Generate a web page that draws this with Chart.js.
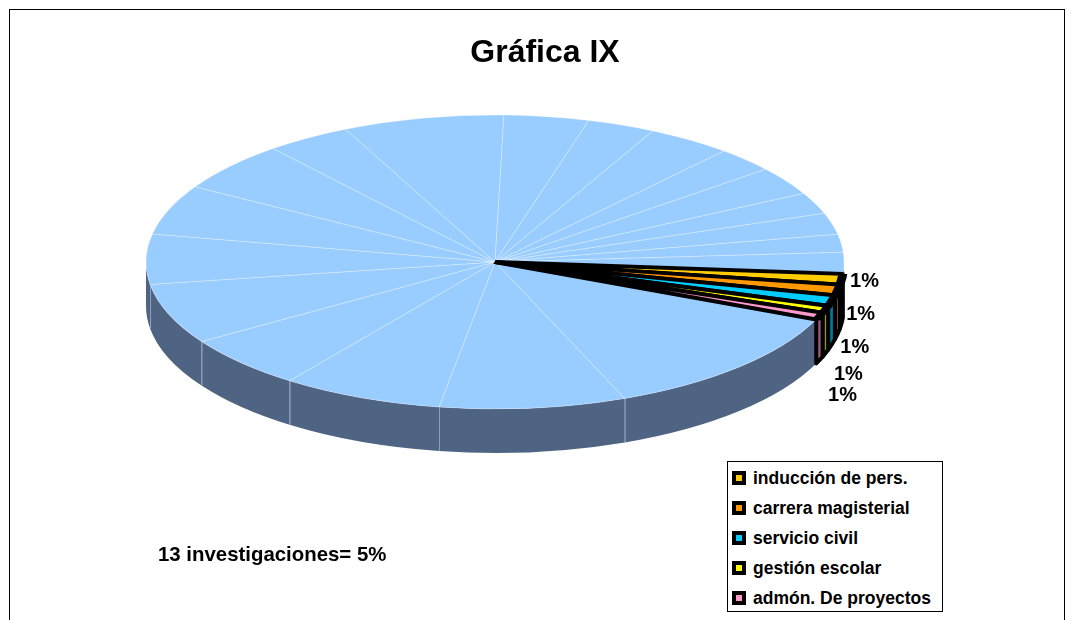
<!DOCTYPE html>
<html>
<head>
<meta charset="utf-8">
<script src="https://cdn.jsdelivr.net/npm/chart.js@4.4.0/dist/chart.umd.min.js"></script>
<style>
  html, body { margin: 0; padding: 0; background: #fff; }
  body { width: 1071px; height: 620px; position: relative; overflow: hidden;
         font-family: "Liberation Sans", Arial, sans-serif; font-weight: bold; color: #000; }
  #marco { position: absolute; left: 9px; top: 9px; width: 1056px; height: 700px;
           border: 1px solid #000; box-sizing: border-box; }
  #grafica { position: absolute; left: 0; top: 0; }
  #titulo { position: absolute; left: 395px; width: 300px; top: 35px; text-align: center;
            font-size: 32px; line-height: 32px; }
  #nota { position: absolute; left: 158px; top: 544px; font-size: 20.4px; line-height: 20px; white-space: nowrap; }
  #leyenda { position: absolute; left: 727px; top: 461px; width: 216px; height: 151px;
             border: 1px solid #000; box-sizing: border-box; background: #fff; }
  .item { position: absolute; left: 4px; height: 20px; font-size: 17.5px; line-height: 20px; white-space: nowrap; }
  .marca { position: absolute; left: 0; top: 3px; width: 14px; height: 14px; background: #000; }
  .marca span { position: absolute; left: 4px; top: 4px; width: 6px; height: 6px; }
  .texto { position: absolute; left: 21px; top: 0; }
</style>
</head>
<body>
<div id="marco"></div>
<canvas id="grafica" width="1071" height="620"></canvas>
<div id="titulo">Gráfica IX</div>
<div id="nota"></div>
<div id="leyenda"></div>
<script>
// temas con leyenda (13 investigaciones)
const temas = ["inducción de pers.", "carrera magisterial", "servicio civil", "gestión escolar", "admón. De proyectos"];
const investigaciones = [3, 3, 3, 2, 2];
const coloresTemas = ["#FFCC00", "#FF9900", "#00CCFF", "#FFFF00", "#FF99CC"];

// resto de temas (sin leyenda), en el sentido del reloj desde abajo de "admón."
const otrasInvestigaciones = [32, 22, 19, 15, 17, 14, 14, 14, 10, 19, 10, 8, 10, 7, 8, 6, 6, 5, 6];
const otrosTemas = otrasInvestigaciones.map((_, i) => "otro tema " + (i + 1));

const nota = "13 investigaciones= 5%";

const AZUL = "#99CCFF";
const AZUL_LADO = "#4F6482";
const INCLINACION = 147 / 349;
const PROFUNDIDAD = 44;

const etiquetas = otrosTemas.concat(temas);
const valores = otrasInvestigaciones.concat(investigaciones);
const colores = otrosTemas.map(() => AZUL).concat(coloresTemas);
const nOtros = otrosTemas.length;
const total = valores.reduce((a, b) => a + b, 0);

function oscurecer(hex, f) {
    const n = parseInt(hex.slice(1), 16);
    const r = Math.round(((n >> 16) & 255) * f);
    const g = Math.round(((n >> 8) & 255) * f);
    const b = Math.round((n & 255) * f);
    return `rgb(${r},${g},${b})`;
}

// 🥧 pastel en 3D: lado frontal + aplastar la cara superior
const pastel3d = {
    id: "pastel3d",
    beforeDatasetsDraw(chart) {
        const ctx = chart.ctx;
        const arcos = chart.getDatasetMeta(0).data;
        const cx = arcos[0].x, cy = arcos[0].y;
        const rx = arcos[0].outerRadius, ry = rx * INCLINACION;
        const TAU = Math.PI * 2;

        arcos.forEach((arco, i) => {
            let a = arco.startAngle, b = arco.endAngle;
            const k = Math.floor(a / TAU);
            a -= k * TAU; b -= k * TAU;
            [[0, Math.PI], [TAU, TAU + Math.PI]].forEach(([lo, hi]) => {
                const s = Math.max(a, lo), e = Math.min(b, hi);
                if (e <= s) return;
                ctx.beginPath();
                ctx.ellipse(cx, cy, rx, ry, 0, s, e);
                ctx.ellipse(cx, cy + PROFUNDIDAD, rx, ry, 0, e, s, true);
                ctx.closePath();
                if (i < nOtros) {
                    ctx.fillStyle = AZUL_LADO;
                    ctx.fill();
                } else {
                    ctx.fillStyle = oscurecer(colores[i], 0.6);
                    ctx.fill();
                    ctx.strokeStyle = "#000";
                    ctx.lineWidth = 4;
                    ctx.lineJoin = "round";
                    ctx.stroke();
                }
            });
            // costura en el lado
            const t = a;
            if (i < nOtros && ((t > 0 && t < Math.PI) || (t > TAU && t < TAU + Math.PI))) {
                const x = cx + rx * Math.cos(t), y = cy + ry * Math.sin(t);
                ctx.beginPath();
                ctx.moveTo(x + 0.5, y);
                ctx.lineTo(x + 0.5, y + PROFUNDIDAD);
                ctx.strokeStyle = "rgba(165,185,212,0.7)";
                ctx.lineWidth = 1;
                ctx.stroke();
            }
        });

        ctx.save();
        ctx.translate(cx, cy);
        ctx.scale(1, INCLINACION);
        ctx.translate(-cx, -cy);
    },
    afterDatasetsDraw(chart) {
        const ctx = chart.ctx;
        ctx.restore();

        // 🏷️ porcentajes junto a las rebanadas con leyenda (separados hacia abajo)
        const arcos = chart.getDatasetMeta(0).data;
        const cx = arcos[0].x, cy = arcos[0].y;
        const rx = arcos[0].outerRadius, ry = rx * INCLINACION;
        ctx.save();
        ctx.font = 'bold 20px "Liberation Sans", Arial, sans-serif';
        ctx.fillStyle = "#000";
        ctx.textAlign = "center";
        ctx.textBaseline = "middle";
        const m0 = (arcos[nOtros].startAngle + arcos[nOtros].endAngle) / 2;
        const y0 = cy + ry * Math.sin(m0) + 2;
        for (let i = nOtros; i < arcos.length; i++) {
            const arco = arcos[i];
            const m = (arco.startAngle + arco.endAngle) / 2;
            const x = cx + rx * Math.cos(m) + 23;
            const y = y0 + (Math.sin(m) - Math.sin(m0)) * ry * 3.1;
            const pct = Math.round(valores[i] / total * 100) + "%";
            ctx.fillText(pct, x, y);
        }
        ctx.restore();
    }
};

const ctx = document.getElementById("grafica").getContext("2d");
new Chart(ctx, {
    type: "pie",
    data: {
        labels: etiquetas,
        datasets: [{
            data: valores,
            backgroundColor: colores,
            borderColor: colores.map((c, i) => i < nOtros ? "rgba(255,255,255,0.4)" : "#000"),
            borderWidth: colores.map((c, i) => i < nOtros ? 1 : 9),
            radius: 349,
            clip: false
        }]
    },
    options: {
        responsive: false,
        animation: false,
        rotation: 113,
        layout: { padding: { left: 0, right: 81, top: 0, bottom: 96 } },
        plugins: {
            legend: { display: false },
            title: { display: false },
            tooltip: { enabled: false }
        }
    },
    plugins: [pastel3d]
});

// 📜 leyenda y nota
document.getElementById("nota").innerText = nota;
let html = "";
temas.forEach((t, i) => {
    html += `<div class="item" style="top:${6 + i * 30}px">
        <div class="marca"><span style="background:${coloresTemas[i]}"></span></div>
        <div class="texto">${t}</div>
    </div>`;
});
document.getElementById("leyenda").innerHTML = html;
</script>
</body>
</html>
